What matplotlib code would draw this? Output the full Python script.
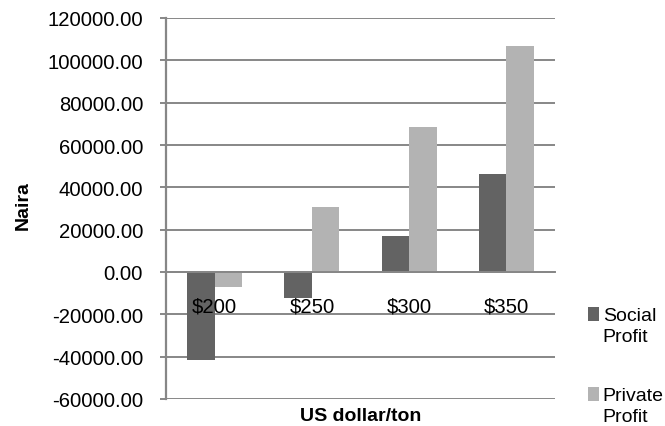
import matplotlib
matplotlib.use("Agg")
import matplotlib.pyplot as plt
from matplotlib.patches import Rectangle
from matplotlib.legend_handler import HandlerPatch
import numpy as np

# Data
categories = ["$200", "$250", "$300", "$350"]
social_profit = [-41800, -12500, 16800, 46200]
private_profit = [-7000, 30700, 68700, 106600]
series_names = ["Social\nProfit", "Private\nProfit"]
y_ticks = [-60000, -40000, -20000, 0, 20000, 40000, 60000, 80000, 100000, 120000]

plt.rcParams["font.family"] = ["Liberation Sans", "DejaVu Sans"]
plt.rcParams["font.size"] = 14

DARK = "#636363"
LIGHT = "#b3b3b3"
GRID = "#878787"

W, H = 665, 427
fig = plt.figure(figsize=(W / 100, H / 100), dpi=100)
ax = fig.add_axes([166 / W, 1 - 400 / H, (555 - 166) / W, (400 - 19) / H])

x = np.arange(len(categories))
bw = 0.283
ax.bar(x - bw / 2, social_profit, width=bw, color=DARK, zorder=2, label=series_names[0])
ax.bar(x + bw / 2, private_profit, width=bw, color=LIGHT, zorder=2, label=series_names[1])

ax.set_xlim(-0.5, len(categories) - 0.5)
ax.set_ylim(y_ticks[0], y_ticks[-1])
ax.set_yticks(y_ticks)
ax.set_yticklabels([f"{v:.2f}" for v in y_ticks])
ax.yaxis.grid(True, color=GRID, linewidth=1.4)
ax.set_axisbelow(True)
# category labels are drawn over the bars
ax.xaxis.set_zorder(3)

# Category axis sits on the zero line
for s in ["top", "right"]:
    ax.spines[s].set_visible(False)
ax.spines["bottom"].set_position(("data", 0))
ax.spines["bottom"].set_color(GRID)
ax.spines["bottom"].set_linewidth(1.4)
ax.spines["left"].set_color(GRID)
ax.spines["left"].set_linewidth(1.6)

ax.set_xticks(x)
ax.set_xticklabels(categories)
ax.tick_params(axis="x", length=0, pad=18, labelsize=14.6)
ax.tick_params(axis="y", length=4.5, width=1.4, color=GRID, direction="out", pad=12, labelsize=14.6)

ax.set_xlabel("US dollar/ton", fontweight="bold", fontsize=14)
ax.xaxis.set_label_coords(0.5, -0.02)
ax.set_ylabel("Naira", fontweight="bold", fontsize=14, va="center")
ax.yaxis.set_label_coords(-0.366, 0.51)


def square_marker(legend, orig_handle, xdescent, ydescent, width, height, fontsize):
    # square sitting on the baseline of the first label line
    return Rectangle((-xdescent, -ydescent), width, 0.58 * fontsize)


leg = ax.legend(
    loc="upper left",
    bbox_to_anchor=(587.5 / W, 1 - 308 / H),
    bbox_transform=fig.transFigure,
    frameon=False,
    fontsize=14,
    handlelength=0.58,
    handleheight=0.73,
    handletextpad=0.2,
    labelspacing=2.2,
    borderpad=0,
    borderaxespad=0,
    handler_map={Rectangle: HandlerPatch(patch_func=square_marker)},
)
for t in leg.get_texts():
    t.set_linespacing(1.27)
# align each marker with the top line of its two-line label
for column in leg._legend_handle_box.get_children():
    for item in column.get_children():
        item.align = "top"

fig.savefig("out.png", dpi=100)
